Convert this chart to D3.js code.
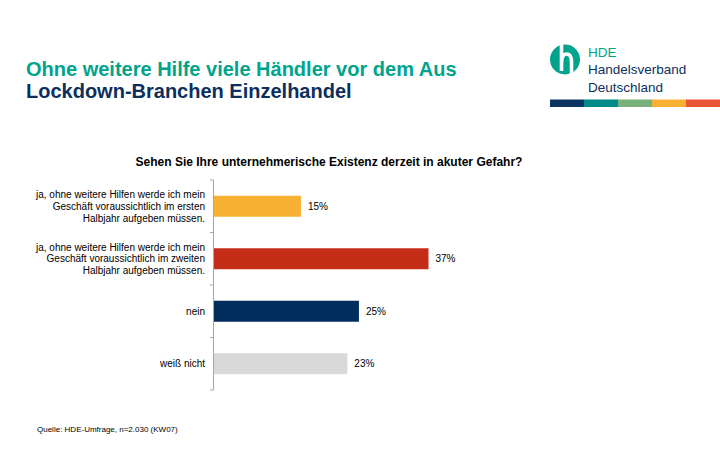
<!DOCTYPE html>
<html><head><meta charset="utf-8">
<script src="https://cdn.jsdelivr.net/npm/d3@7"></script>
<style>body{margin:0;background:#fff}svg{display:block;font-family:"Liberation Sans",Arial,sans-serif}</style>
</head><body>
<script>
const categories = [
  ["ja, ohne weitere Hilfen werde ich mein","Geschäft voraussichtlich im ersten","Halbjahr aufgeben müssen."],
  ["ja, ohne weitere Hilfen werde ich mein","Geschäft voraussichtlich im zweiten","Halbjahr aufgeben müssen."],
  ["nein"],
  ["weiß nicht"]
];
const values = [15, 37, 25, 23];
const barColors = ["#F8B133", "#C42E18", "#002D5C", "#D9D9D9"];
const stripeColors = ["#0D3461", "#008A8A", "#79B27A", "#F8B133", "#EB5337"];

const W = 720, H = 475;
const svg = d3.select("body").append("svg").attr("width", W).attr("height", H);

// Titles
svg.append("text").attr("x", 26).attr("y", 76).attr("font-size", 20).attr("font-weight", "bold")
  .attr("fill", "#00A48C").text("Ohne weitere Hilfe viele Händler vor dem Aus");
svg.append("text").attr("x", 26).attr("y", 98).attr("font-size", 20).attr("font-weight", "bold")
  .attr("fill", "#0D2F5E").text("Lockdown-Branchen Einzelhandel");

// Logo
const logo = svg.append("g");
logo.append("circle").attr("cx", 565).attr("cy", 59.5).attr("r", 15).attr("fill", "#00A48C");
logo.append("path").attr("d", "M561.5,44 L561.5,71 M561.5,64 Q561.5,54 566.5,54 Q571.5,54 571.5,62 L571.5,76")
  .attr("stroke", "#fff").attr("stroke-width", 3.6).attr("fill", "none").attr("stroke-linecap", "butt");
logo.append("text").attr("x", 588).attr("y", 57).attr("font-size", 13.5).attr("fill", "#00A48C").text("HDE");
logo.append("text").attr("x", 588).attr("y", 74).attr("font-size", 13.5).attr("fill", "#0D2F5E").text("Handelsverband");
logo.append("text").attr("x", 588).attr("y", 92).attr("font-size", 13.5).attr("fill", "#0D2F5E").text("Deutschland");
const sx = d3.scaleBand().domain(d3.range(stripeColors.length)).range([550, 720]);
svg.selectAll("rect.stripe").data(stripeColors).join("rect").attr("class", "stripe")
  .attr("x", (d, i) => sx(i)).attr("y", 99.5).attr("width", sx.bandwidth()).attr("height", 7.5).attr("fill", d => d);

// Question
svg.append("text").attr("x", 329).attr("y", 166).attr("text-anchor", "middle").attr("font-size", 12)
  .attr("font-weight", "bold").attr("fill", "#000").text("Sehen Sie Ihre unternehmerische Existenz derzeit in akuter Gefahr?");

// Chart
const x0 = 214;
const x = d3.scaleLinear().domain([0, 37]).range([x0, 428.5]);
const y = d3.scaleBand().domain(d3.range(categories.length)).range([180, 390]).paddingInner(0.6).paddingOuter(0.3);
const yAxis = d3.scaleBand().domain(d3.range(categories.length)).range([180, 390]);

const g = svg.append("g");
g.selectAll("rect.bar").data(values).join("rect").attr("class", "bar")
  .attr("x", x0).attr("y", (d, i) => y(i)).attr("width", d => x(d) - x0).attr("height", y.bandwidth())
  .attr("fill", (d, i) => barColors[i]);

g.selectAll("text.val").data(values).join("text").attr("class", "val")
  .attr("x", d => x(d) + 7).attr("y", (d, i) => y(i) + y.bandwidth() / 2 + 3.7)
  .attr("font-size", 10).attr("fill", "#000").text(d => d + "%");

// axis line and ticks
const axisG = svg.append("g");
axisG.append("line").attr("x1", x0 - 0.5).attr("x2", x0 - 0.5).attr("y1", 180).attr("y2", 390)
  .attr("stroke", "#A6A6A6").attr("stroke-width", 1);
const ticks = d3.range(categories.length + 1).map(i => i < categories.length ? yAxis(i) : 390);
axisG.selectAll("line.tick").data(ticks).join("line").attr("class", "tick")
  .attr("x1", x0 - 4).attr("x2", x0 - 0.5).attr("y1", d => d).attr("y2", d => d)
  .attr("stroke", "#A6A6A6").attr("stroke-width", 1);

// category labels
const lh = 11.7;
categories.forEach((lines, i) => {
  const cy = y(i) + y.bandwidth() / 2;
  const t = svg.append("text").attr("text-anchor", "end").attr("font-size", 10).attr("fill", "#000");
  lines.forEach((ln, j) => {
    t.append("tspan").attr("x", 205).attr("y", cy + 3.6 + (j - (lines.length - 1) / 2) * lh).text(ln);
  });
});

svg.append("text").attr("x", 37).attr("y", 432).attr("font-size", 8).attr("fill", "#000")
  .text("Quelle: HDE-Umfrage, n=2.030 (KW07)");
</script>
</body></html>
